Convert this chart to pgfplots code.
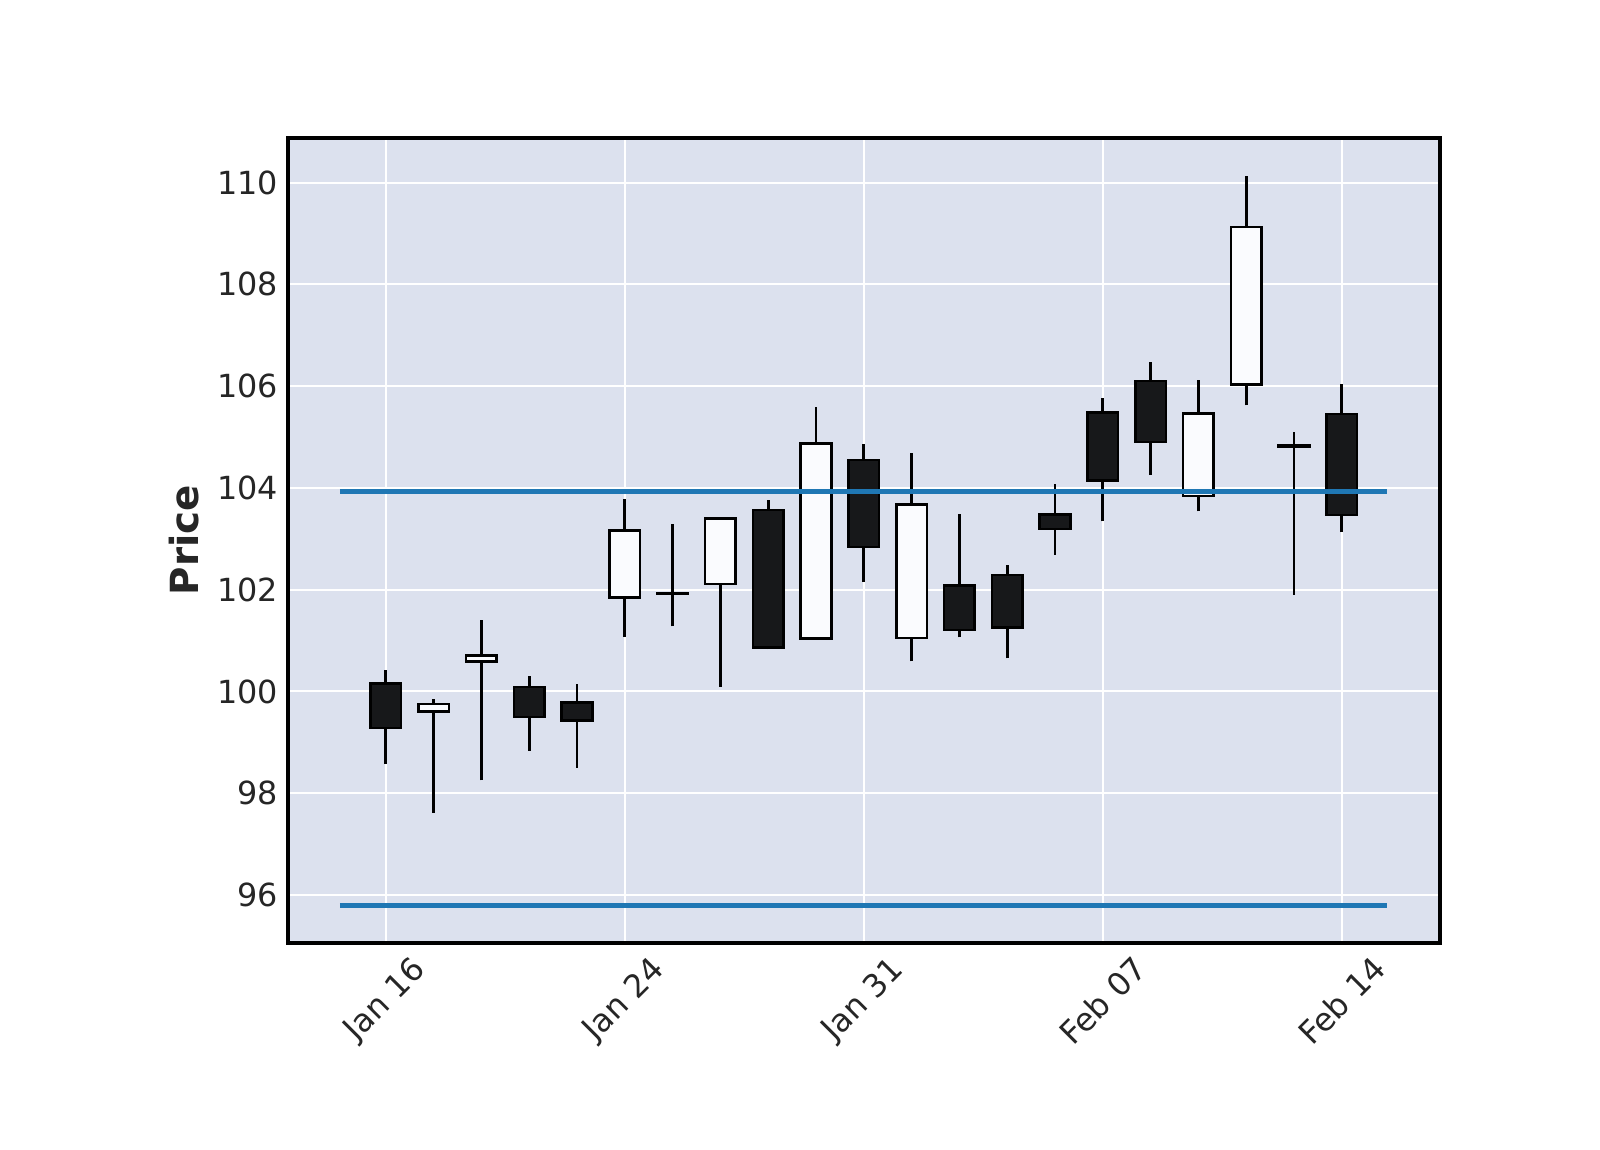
\documentclass[border=0pt]{standalone}
\usepackage{pgfplots}
\pgfplotsset{compat=1.18}
\usepackage{pgfplotstable}
\usepackage{fontspec}
\setmainfont{DejaVu Sans}
\definecolor{bgc}{HTML}{DCE1EE}
\definecolor{upc}{HTML}{FAFBFE}
\definecolor{dnc}{HTML}{17181A}
\definecolor{linec}{HTML}{1F77B4}
\definecolor{txt}{HTML}{262626}

\pgfplotstableread{
i open high low close
0 100.16 100.42 98.58 99.28
1 99.61 99.86 97.62 99.75
2 100.59 101.40 98.25 100.71
3 100.09 100.30 98.83 99.50
4 99.78 100.14 98.50 99.43
5 101.85 103.79 101.07 103.16
6 101.915 103.30 101.28 101.925
7 102.11 103.43 100.09 103.40
8 103.57 103.77 100.83 100.86
9 101.04 105.59 101.04 104.87
10 104.55 104.86 102.16 102.84
11 101.05 104.69 100.59 103.67
12 102.08 103.48 101.06 101.21
13 102.29 102.48 100.65 101.26
14 103.48 104.08 102.69 103.19
15 105.48 105.77 103.34 104.15
16 106.10 106.48 104.25 104.90
17 103.84 106.13 103.54 105.46
18 106.03 110.13 105.62 109.13
19 104.83 105.10 101.90 104.81
20 105.45 106.05 103.13 103.47
}\ohlc

\pgfplotsset{
  common/.style={
    at={(0,0)}, anchor=south west,
    scale only axis, width=416.3pt, height=290.9pt,
    xmin=-2.05, xmax=22.05, ymin=95.06, ymax=110.88,
  },
}

\begin{document}
\begin{tikzpicture}
\path[use as bounding box, fill=white] (-104.0pt,-74.8pt) rectangle (474.2pt,340.7pt);
% axis 1: background, grid, labels, wicks
\begin{axis}[common,
  axis background/.style={fill=bgc},
  axis line style={line width=1.5pt, black},
  grid=major, major grid style={white, line width=0.7pt},
  major tick length=0pt,
  xtick={0,5,10,15,20},
  xticklabels={Jan 16, Jan 24, Jan 31, Feb 07, Feb 14},
  ytick={96,98,...,110},
  /pgf/number format/assume math mode=true,
  tick label style={font=\fontsize{11.5}{13}\selectfont, text=txt},
  xticklabel style={rotate=45, anchor=center},
  xticklabel shift=20.9pt,
  ylabel={Price},
  every axis y label/.style={at={(axis description cs:-0.0903,0.5)}, rotate=90, anchor=center, font=\fontsize{14}{16}\selectfont\bfseries, text=txt},
]
\addplot[only marks, mark=*, mark options={draw opacity=0, fill opacity=0},
  error bars/.cd, y dir=plus, y explicit, error mark=none,
  error bar style={line width=1pt, black}]
  table[x=i, y=low, y error expr=\thisrow{high}-\thisrow{low}] {\ohlc};
\end{axis}
% axis 2: bodies
\begin{axis}[common, hide axis, ybar stacked, bar width=0.64]
\addplot[draw=none, fill=none] table[x=i, y expr={min(\thisrow{open},\thisrow{close})}] {\ohlc};
\addplot[draw=black, fill=upc, line width=0.9pt] table[x=i, y expr={max(\thisrow{close}-\thisrow{open},0)}] {\ohlc};
\addplot[draw=black, fill=dnc, line width=0.9pt] table[x=i, y expr={max(\thisrow{open}-\thisrow{close},0)}] {\ohlc};
\end{axis}
% axis 3: horizontal lines
\begin{axis}[common, hide axis]
\addplot[linec, line width=1.8pt] coordinates {(-0.96,103.92) (20.94,103.92)};
\addplot[linec, line width=1.8pt] coordinates {(-0.96,95.80) (20.94,95.80)};
\end{axis}
\end{tikzpicture}
\end{document}
